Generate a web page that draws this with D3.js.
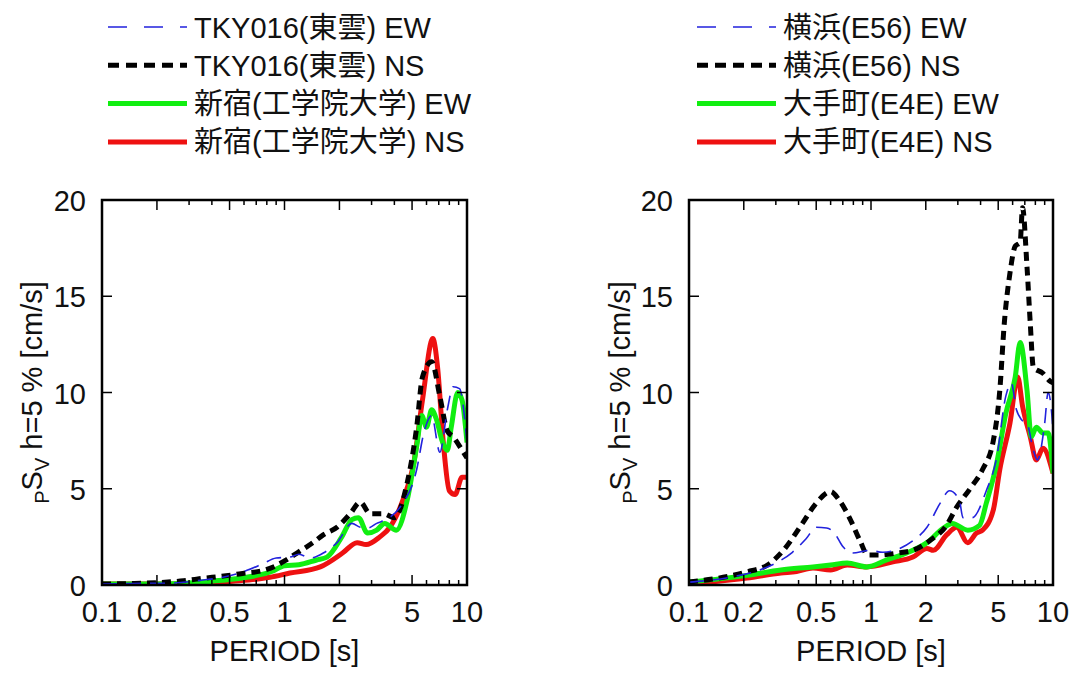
<!DOCTYPE html>
<html><head><meta charset="utf-8">
<script src="https://cdn.jsdelivr.net/npm/d3@7"></script>
<style>
html,body{margin:0;padding:0;background:#fff;}
text{font-family:"Liberation Sans","Noto Sans CJK JP",Arial,sans-serif;fill:#111;}
</style></head>
<body><svg id="chart" width="1075" height="677"></svg>
<script>
// ---------- data ----------
const xTickValues = [0.1, 0.2, 0.5, 1, 2, 5, 10];
const xTickLabels = ["0.1", "0.2", "0.5", "1", "2", "5", "10"];
const xMinorTicks = [0.3,0.4,0.6,0.7,0.8,0.9,3,4,6,7,8,9];
const yTickValues = [0, 5, 10, 15, 20];
const yTickLabels = ["0", "5", "10", "15", "20"];

const leftNames = ["TKY016(東雲) EW", "TKY016(東雲) NS", "新宿(工学院大学) EW", "新宿(工学院大学) NS"];
const rightNames = ["横浜(E56) EW", "横浜(E56) NS", "大手町(E4E) EW", "大手町(E4E) NS"];

// [period s, pSv cm/s]
const tky016EW = [[0.1,0.05],[0.15,0.08],[0.245,0.1],[0.35,0.25],[0.46,0.4],[0.6,0.7],[0.76,1.1],[0.9,1.4],[1.07,1.45],[1.2,1.6],[1.38,1.4],[1.63,1.66],[1.94,2.2],[2.34,3.2],[2.6,3.0],[2.86,2.96],[3.2,3.2],[3.6,3.4],[4.3,4.05],[5.3,6.0],[5.8,7.9],[6.4,8.8],[7.1,6.9],[7.8,9.1],[8.4,10.3],[9.1,10.2],[10,7.4]];
const tky016NS = [[0.1,0.05],[0.15,0.08],[0.2,0.12],[0.28,0.22],[0.36,0.35],[0.45,0.45],[0.59,0.6],[0.76,0.75],[0.9,1.0],[1.0,1.25],[1.17,1.66],[1.43,2.2],[1.63,2.6],[1.94,3.0],[2.29,3.7],[2.6,4.3],[2.95,3.7],[3.5,3.7],[4.0,3.5],[4.7,5.3],[5.3,8.2],[5.7,10.8],[6.4,11.6],[7.1,9.8],[7.8,8.0],[8.4,7.7],[9.4,7.0],[10,6.6]];
const shinjukuEW = [[0.1,0.05],[0.2,0.05],[0.3,0.1],[0.4,0.2],[0.57,0.35],[0.85,0.7],[1.0,1.0],[1.2,1.05],[1.5,1.3],[1.71,1.45],[2.06,2.5],[2.34,3.4],[2.54,3.5],[2.85,2.7],[3.2,2.85],[3.54,3.2],[4.1,2.85],[4.7,4.4],[5.3,7.2],[5.65,8.8],[6.0,8.2],[6.4,9.1],[6.8,8.6],[7.3,7.5],[7.8,7.0],[8.2,8.2],[8.9,10.0],[9.4,9.6],[10,7.4]];
const shinjukuNS = [[0.1,0.05],[0.3,0.05],[0.52,0.2],[0.7,0.3],[0.83,0.4],[1.07,0.62],[1.57,0.94],[2.08,1.66],[2.5,2.2],[2.8,2.1],[3.33,2.5],[3.78,3.0],[4.45,4.4],[5.1,6.3],[5.7,9.6],[6.5,12.8],[6.9,11.3],[7.4,7.5],[8.0,4.9],[8.6,4.7],[9.4,5.6],[10,5.6]];

const yokohamaEW = [[0.1,0.15],[0.168,0.4],[0.245,0.78],[0.3,1.14],[0.37,1.7],[0.44,2.4],[0.5,3.0],[0.57,2.96],[0.63,2.7],[0.7,2.0],[0.79,1.66],[0.98,1.8],[1.16,1.7],[1.44,1.9],[1.7,2.3],[2.03,3.0],[2.4,4.25],[2.7,4.9],[3.06,4.4],[3.2,3.5],[3.6,3.5],[4.3,4.9],[4.9,6.6],[5.5,9.8],[5.9,10.5],[6.3,9.1],[6.7,8.6],[7.2,8.4],[7.8,7.0],[8.2,6.5],[9.0,8.4],[9.4,10.0],[9.8,9.1],[10,8.0]];
const yokohamaNS = [[0.1,0.15],[0.154,0.4],[0.208,0.68],[0.27,1.04],[0.33,1.8],[0.42,3.2],[0.5,4.25],[0.6,4.85],[0.67,4.4],[0.77,3.4],[0.87,2.3],[0.96,1.56],[1.12,1.56],[1.39,1.66],[1.7,1.8],[2.1,2.3],[2.6,3.1],[2.96,4.05],[3.5,5.0],[4.1,6.0],[4.7,7.5],[5.1,10.1],[5.4,13.6],[5.8,16.2],[6.2,17.6],[6.6,17.8],[6.8,19.6],[7.2,16.5],[7.5,13.6],[7.8,11.3],[8.8,11.0],[9.6,10.6],[10,10.5]];
const otemachiEW = [[0.1,0.15],[0.208,0.5],[0.32,0.78],[0.48,0.94],[0.6,1.04],[0.74,1.14],[0.95,0.94],[1.22,1.3],[1.57,1.66],[2.03,2.2],[2.5,2.96],[2.8,3.2],[3.4,2.85],[3.95,3.1],[4.3,4.25],[4.9,6.3],[5.5,8.9],[6.2,10.8],[6.6,12.6],[7.2,10.1],[7.6,7.7],[8.1,8.2],[8.8,7.9],[9.4,7.9],[10,5.8]];
const otemachiNS = [[0.1,0.05],[0.208,0.36],[0.32,0.62],[0.39,0.7],[0.48,0.88],[0.6,0.78],[0.74,1.04],[0.95,0.94],[1.32,1.2],[1.7,1.45],[2.03,1.9],[2.2,1.8],[2.6,2.6],[2.96,3.0],[3.4,2.2],[3.8,2.7],[4.1,2.85],[4.7,3.9],[5.1,6.0],[5.8,8.4],[6.4,10.8],[6.8,9.3],[7.5,7.7],[8.1,6.5],[8.8,7.1],[10,5.8]];

// ---------- styles ----------
const styles = [
  {color:"#2222dd", width:1.6, dash:"15,9", legDash:"19,17"},
  {color:"#000000", width:5, dash:"9,6", legDash:"11,7"},
  {color:"#11ee11", width:5, dash:null, legDash:null},
  {color:"#ee1111", width:5, dash:null, legDash:null}
];
const FS = 29;

const svg = d3.select("#chart");

function panel(cfg){
  const {x0, x1, y0, y1, series, names, legX, labelX} = cfg;
  const x = d3.scaleLog().domain([0.1,10]).range([x0,x1]);
  const y = d3.scaleLinear().domain([0,20]).range([y1,y0]);
  const g = svg.append("g");
  const cid = "clip"+x0;
  svg.append("clipPath").attr("id",cid).append("rect")
    .attr("x",x0).attr("y",y0-2).attr("width",x1-x0).attr("height",y1-y0+2);

  const line = d3.line().x(d=>x(d[0])).y(d=>y(d[1])).curve(d3.curveMonotoneX);
  // draw order: red, green, black, blue
  [3,2,1,0].forEach(i=>{
    const s = styles[i];
    g.append("path").datum(series[i]).attr("d",line)
      .attr("clip-path","url(#"+cid+")")
      .attr("fill","none").attr("stroke",s.color).attr("stroke-width",s.width)
      .attr("stroke-dasharray",s.dash).attr("stroke-linejoin","round");
  });

  // ticks (inward, mirrored)
  const tk = g.append("g").attr("stroke","#000").attr("stroke-width",1.5);
  xTickValues.forEach(v=>{
    tk.append("line").attr("x1",x(v)).attr("x2",x(v)).attr("y1",y1).attr("y2",y1-10);
    tk.append("line").attr("x1",x(v)).attr("x2",x(v)).attr("y1",y0).attr("y2",y0+10);
  });
  xMinorTicks.forEach(v=>{
    tk.append("line").attr("x1",x(v)).attr("x2",x(v)).attr("y1",y1).attr("y2",y1-5);
    tk.append("line").attr("x1",x(v)).attr("x2",x(v)).attr("y1",y0).attr("y2",y0+5);
  });
  yTickValues.forEach(v=>{
    tk.append("line").attr("x1",x0).attr("x2",x0+10).attr("y1",y(v)).attr("y2",y(v));
    tk.append("line").attr("x1",x1).attr("x2",x1-10).attr("y1",y(v)).attr("y2",y(v));
  });
  g.append("rect").attr("x",x0).attr("y",y0).attr("width",x1-x0).attr("height",y1-y0)
    .attr("fill","none").attr("stroke","#000").attr("stroke-width",2.5);

  // tick labels
  xTickValues.forEach((v,i)=>{
    g.append("text").attr("x",x(v)).attr("y",y1+37).attr("text-anchor","middle")
      .attr("font-size",FS).text(xTickLabels[i]);
  });
  yTickValues.forEach((v,i)=>{
    g.append("text").attr("x",x0-16).attr("y",y(v)+11).attr("text-anchor","end")
      .attr("font-size",FS).text(yTickLabels[i]);
  });
  // axis titles
  g.append("text").attr("x",(x0+x1)/2).attr("y",y1+76).attr("text-anchor","middle")
    .attr("font-size",FS).text("PERIOD [s]");
  const yl = g.append("text").attr("transform",`translate(${labelX},${(y0+y1)/2}) rotate(-90)`)
    .attr("text-anchor","middle").attr("font-size",FS);
  yl.append("tspan").attr("font-size",20).attr("dy",7).text("P");
  yl.append("tspan").attr("dy",-7).text("S");
  yl.append("tspan").attr("font-size",20).attr("dy",7).text("V");
  yl.append("tspan").attr("dy",-7).text(" h=5 % [cm/s]");

  // legend
  const lg = g.append("g");
  names.forEach((n,i)=>{
    const cy = 27 + i*38.3;
    const s = styles[i];
    lg.append("line").attr("x1",legX).attr("x2",legX+79).attr("y1",cy).attr("y2",cy)
      .attr("stroke",s.color).attr("stroke-width",s.width).attr("stroke-dasharray",s.legDash);
    lg.append("text").attr("x",legX+86).attr("y",cy+10.5).attr("font-size",FS).text(n);
  });
}

panel({x0:102, x1:467, y0:200, y1:585, series:[tky016EW,tky016NS,shinjukuEW,shinjukuNS], names:leftNames, legX:108, labelX:42});
panel({x0:689, x1:1053, y0:200, y1:585, series:[yokohamaEW,yokohamaNS,otemachiEW,otemachiNS], names:rightNames, legX:697, labelX:630});
</script></body></html>
